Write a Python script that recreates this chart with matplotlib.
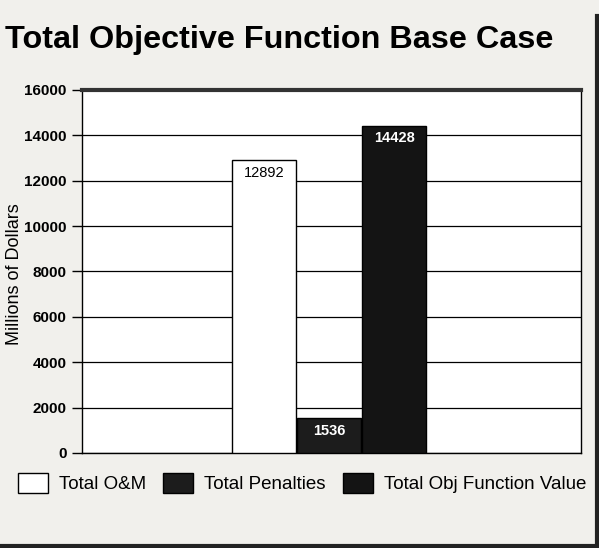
import numpy as np
import matplotlib
matplotlib.use('Agg')
import matplotlib.pyplot as plt
from matplotlib.patches import Patch
from matplotlib.lines import Line2D

# values
series = ["Total O&M", "Total Penalties", "Total Obj Function Value"]
values = [12892, 1536, 14428]
bar_labels = ["12892", "1536", "14428"]
yticks = [0, 2000, 4000, 6000, 8000, 10000, 12000, 14000, 16000]

plt.rcParams['font.family'] = ['Liberation Sans', 'DejaVu Sans']

fig = plt.figure(figsize=(5.99, 5.48), dpi=100, facecolor='#f1f0ec')
ax = fig.add_axes([0.137, 0.1734, 0.833, 0.6624])
ax.set_facecolor('white')

fills = ['white', '#1c1c1c', '#141414']
ind = np.arange(len(values))
bars = ax.bar(ind, values, 0.98, color=fills, edgecolor='black', linewidth=1.0, zorder=3)

# value labels inside the top of each bar
txt_colors = ['black', 'white', 'white']
weights = ['normal', 'bold', 'bold']
for b, lab, c, w in zip(bars, bar_labels, txt_colors, weights):
    ax.text(b.get_x() + b.get_width() / 2, b.get_height() - 250, lab,
            ha='center', va='top', color=c, fontsize=10.5, fontweight=w, zorder=4)

ax.set_ylim(0, 16000)
ax.set_xlim(-2.8, 4.87)
ax.set_yticks(yticks)
ax.set_xticks([])
ax.yaxis.grid(True, color='black', linewidth=0.9, zorder=0)
ax.tick_params(axis='y', direction='out', length=7, width=1, labelsize=11, pad=4)
for lab in ax.get_yticklabels():
    lab.set_fontweight('bold')
for s in ax.spines.values():
    s.set_linewidth(1.0)
ax.spines['top'].set_linewidth(3)
ax.spines['top'].set_color('#333333')

fig.text(0.024, 0.5, "Millions of Dollars", rotation=90, ha='center', va='center',
         fontsize=13)

fig.text(0.008, 0.927, "Total Objective Function Base Case", fontsize=23.3,
         fontweight='bold', ha='left', va='center')

handles = [Patch(facecolor=f, edgecolor='black', linewidth=1.0) for f in fills]
fig.legend(handles, series, loc='center left', bbox_to_anchor=(0.03, 0.118),
           ncol=3, frameon=False, fontsize=13.5, handlelength=1.6, handleheight=1.2,
           handletextpad=0.6, columnspacing=0.9, borderaxespad=0, borderpad=0)

# scanned page border on the right and bottom
fig.add_artist(Line2D([0.997, 0.997], [0.0, 0.97], transform=fig.transFigure,
                      color='#222222', linewidth=3))
fig.add_artist(Line2D([0.0, 1.0], [0.004, 0.004], transform=fig.transFigure,
                      color='#222222', linewidth=3))

plt.savefig('out.png', dpi=100, facecolor=fig.get_facecolor())
